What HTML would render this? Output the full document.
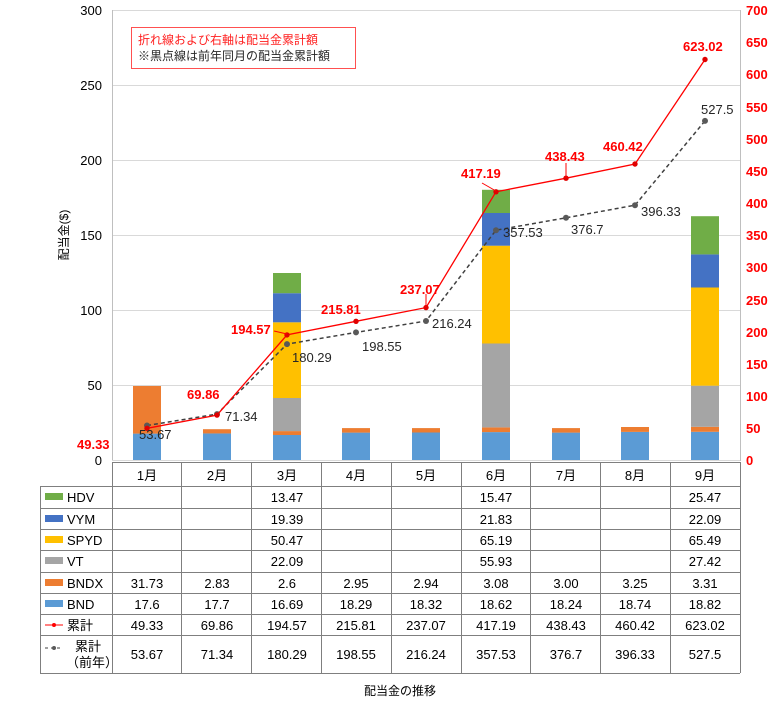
<!DOCTYPE html>
<html><head><meta charset="utf-8"><style>
body{margin:0;background:#fff}
text{font-family:"Liberation Sans","Noto Sans CJK JP",sans-serif}
</style></head><body>
<svg width="780" height="705" xmlns="http://www.w3.org/2000/svg">
<rect width="780" height="705" fill="#fff"/>
<g stroke="#d9d9d9" stroke-width="1">
<line x1="112" y1="10.5" x2="740" y2="10.5"/><line x1="112" y1="85.5" x2="740" y2="85.5"/>
<line x1="112" y1="160.5" x2="740" y2="160.5"/><line x1="112" y1="235.5" x2="740" y2="235.5"/>
<line x1="112" y1="310.5" x2="740" y2="310.5"/><line x1="112" y1="385.5" x2="740" y2="385.5"/>
</g>
<line x1="112.5" y1="10" x2="112.5" y2="461" stroke="#bfbfbf"/>
<line x1="740.5" y1="10" x2="740.5" y2="461" stroke="#bfbfbf"/>
<line x1="112" y1="460.5" x2="740" y2="460.5" stroke="#d9d9d9"/>
<g font-size="13" fill="#000" text-anchor="end">
<text x="102" y="15">300</text><text x="102" y="90">250</text><text x="102" y="165">200</text>
<text x="102" y="240">150</text><text x="102" y="315">100</text><text x="102" y="390">50</text><text x="102" y="465">0</text>
</g>
<g font-size="13" fill="#ff0000" font-weight="bold">
<text x="746" y="15">700</text><text x="746" y="47">650</text><text x="746" y="79">600</text><text x="746" y="112">550</text>
<text x="746" y="144">500</text><text x="746" y="176">450</text><text x="746" y="208">400</text><text x="746" y="240">350</text>
<text x="746" y="272">300</text><text x="746" y="305">250</text><text x="746" y="337">200</text><text x="746" y="369">150</text>
<text x="746" y="401">100</text><text x="746" y="433">50</text><text x="746" y="465">0</text>
</g>
<text transform="translate(68,235) rotate(-90)" font-size="12" text-anchor="middle">配当金($)</text>
<!-- bars: x center = 147+69.8*i, width 28 -->
<g>
<!-- Jan -->
<rect x="133" y="433.6" width="28" height="26.4" fill="#5b9bd5"/><rect x="133" y="386" width="28" height="47.6" fill="#ed7d31"/>
<!-- Feb -->
<rect x="203" y="433.45" width="28" height="26.55" fill="#5b9bd5"/><rect x="203" y="429.2" width="28" height="4.25" fill="#ed7d31"/>
<!-- Mar -->
<rect x="273" y="435" width="28" height="25" fill="#5b9bd5"/><rect x="273" y="431.1" width="28" height="3.9" fill="#ed7d31"/>
<rect x="273" y="398" width="28" height="33.1" fill="#a5a5a5"/><rect x="273" y="322.3" width="28" height="75.7" fill="#ffc000"/>
<rect x="273" y="293.2" width="28" height="29.1" fill="#4472c4"/><rect x="273" y="273" width="28" height="20.2" fill="#70ad47"/>
<!-- Apr -->
<rect x="342" y="432.6" width="28" height="27.4" fill="#5b9bd5"/><rect x="342" y="428.1" width="28" height="4.5" fill="#ed7d31"/>
<!-- May -->
<rect x="412" y="432.5" width="28" height="27.5" fill="#5b9bd5"/><rect x="412" y="428.1" width="28" height="4.4" fill="#ed7d31"/>
<!-- Jun -->
<rect x="482" y="432.1" width="28" height="27.9" fill="#5b9bd5"/><rect x="482" y="427.4" width="28" height="4.7" fill="#ed7d31"/>
<rect x="482" y="343.5" width="28" height="83.9" fill="#a5a5a5"/><rect x="482" y="245.7" width="28" height="97.8" fill="#ffc000"/>
<rect x="482" y="213" width="28" height="32.7" fill="#4472c4"/><rect x="482" y="189.8" width="28" height="23.2" fill="#70ad47"/>
<!-- Jul -->
<rect x="552" y="432.6" width="28" height="27.4" fill="#5b9bd5"/><rect x="552" y="428.1" width="28" height="4.5" fill="#ed7d31"/>
<!-- Aug -->
<rect x="621" y="431.9" width="28" height="28.1" fill="#5b9bd5"/><rect x="621" y="427" width="28" height="4.9" fill="#ed7d31"/>
<!-- Sep -->
<rect x="691" y="431.8" width="28" height="28.2" fill="#5b9bd5"/><rect x="691" y="426.8" width="28" height="5" fill="#ed7d31"/>
<rect x="691" y="385.7" width="28" height="41.1" fill="#a5a5a5"/><rect x="691" y="287.5" width="28" height="98.2" fill="#ffc000"/>
<rect x="691" y="254.4" width="28" height="33.1" fill="#4472c4"/><rect x="691" y="216.2" width="28" height="38.2" fill="#70ad47"/>
</g>
<!-- lines -->
<polyline points="147,425.5 217,414.1 287,344.1 356,332.4 426,321 496,230.2 566,217.8 635,205.2 705,120.9" fill="none" stroke="#404040" stroke-width="1.5" stroke-dasharray="4,3"/>
<g fill="#595959"><circle cx="147" cy="425.5" r="3"/><circle cx="217" cy="414.1" r="3"/><circle cx="287" cy="344.1" r="3"/><circle cx="356" cy="332.4" r="3"/><circle cx="426" cy="321" r="3"/><circle cx="496" cy="230.2" r="3"/><circle cx="566" cy="217.8" r="3"/><circle cx="635" cy="205.2" r="3"/><circle cx="705" cy="120.9" r="3"/></g>
<polyline points="147,428.3 217,415.1 287,334.9 356,321.3 426,307.6 496,191.8 566,178.2 635,164 705,59.5" fill="none" stroke="#ff0000" stroke-width="1.3"/>
<g fill="#e00000"><circle cx="147" cy="428.3" r="2.7"/><circle cx="217" cy="415.1" r="2.7"/><circle cx="287" cy="334.9" r="2.7"/><circle cx="356" cy="321.3" r="2.7"/><circle cx="426" cy="307.6" r="2.7"/><circle cx="496" cy="191.8" r="2.7"/><circle cx="566" cy="178.2" r="2.7"/><circle cx="635" cy="164" r="2.7"/><circle cx="705" cy="59.5" r="2.7"/></g>
<g stroke="#ff0000" stroke-width="1">
<line x1="482" y1="183" x2="496" y2="191"/><line x1="566" y1="163" x2="566" y2="178"/><line x1="426" y1="294" x2="426" y2="307"/><line x1="287" y1="334" x2="274" y2="331"/>
</g>
<g font-size="13" font-weight="bold" fill="#ff0000">
<text x="77" y="449">49.33</text><text x="187" y="399">69.86</text><text x="231" y="334">194.57</text>
<text x="321" y="314">215.81</text><text x="400" y="294">237.07</text><text x="461" y="178">417.19</text>
<text x="545" y="161">438.43</text><text x="603" y="151">460.42</text><text x="683" y="51">623.02</text>
</g>
<g font-size="13" fill="#262626">
<text x="139" y="439">53.67</text><text x="225" y="421">71.34</text><text x="292" y="362">180.29</text>
<text x="362" y="351">198.55</text><text x="432" y="328">216.24</text><text x="503" y="237">357.53</text>
<text x="571" y="234">376.7</text><text x="641" y="216">396.33</text><text x="701" y="114">527.5</text>
</g>
<!-- legend box -->
<rect x="131.5" y="27.5" width="224" height="41" fill="#fff" stroke="#ff5050"/>
<text x="138" y="44" font-size="12" fill="#ff2020">折れ線および右軸は配当金累計額</text>
<text x="138" y="60" font-size="12" fill="#262626">※黒点線は前年同月の配当金累計額</text>
<!-- table -->
<g stroke="#7f7f7f" stroke-width="1" fill="none">
<line x1="112.5" y1="462" x2="112.5" y2="673"/>
<line x1="740.5" y1="462" x2="740.5" y2="673"/>
<line x1="112" y1="462.5" x2="740" y2="462.5"/>
<line x1="40.5" y1="486" x2="40.5" y2="673"/>
<line x1="40" y1="486.5" x2="740" y2="486.5"/><line x1="40" y1="508.5" x2="740" y2="508.5"/>
<line x1="40" y1="529.5" x2="740" y2="529.5"/><line x1="40" y1="550.5" x2="740" y2="550.5"/>
<line x1="40" y1="572.5" x2="740" y2="572.5"/><line x1="40" y1="593.5" x2="740" y2="593.5"/>
<line x1="40" y1="614.5" x2="740" y2="614.5"/><line x1="40" y1="635.5" x2="740" y2="635.5"/>
<line x1="40" y1="673.5" x2="740" y2="673.5"/>
<line x1="181.5" y1="462" x2="181.5" y2="673"/><line x1="251.5" y1="462" x2="251.5" y2="673"/>
<line x1="321.5" y1="462" x2="321.5" y2="673"/><line x1="391.5" y1="462" x2="391.5" y2="673"/>
<line x1="461.5" y1="462" x2="461.5" y2="673"/><line x1="530.5" y1="462" x2="530.5" y2="673"/>
<line x1="600.5" y1="462" x2="600.5" y2="673"/><line x1="670.5" y1="462" x2="670.5" y2="673"/>
</g>
<g font-size="13" fill="#000">
<rect x="45" y="493" width="18" height="7" fill="#70ad47"/><text x="67" y="502">HDV</text>
<rect x="45" y="515" width="18" height="7" fill="#4472c4"/><text x="67" y="524">VYM</text>
<rect x="45" y="536" width="18" height="7" fill="#ffc000"/><text x="67" y="545">SPYD</text>
<rect x="45" y="557" width="18" height="7" fill="#a5a5a5"/><text x="67" y="566">VT</text>
<rect x="45" y="579" width="18" height="7" fill="#ed7d31"/><text x="67" y="588">BNDX</text>
<rect x="45" y="600" width="18" height="7" fill="#5b9bd5"/><text x="67" y="609">BND</text>
<line x1="45" y1="625" x2="63" y2="625" stroke="#ff0000"/><circle cx="54" cy="625" r="2" fill="#ff0000"/><text x="67" y="630">累計</text>
<line x1="45" y1="648" x2="63" y2="648" stroke="#404040" stroke-dasharray="3,3"/><circle cx="54" cy="648" r="2" fill="#595959"/>
<text x="75" y="651">累計</text><text x="66" y="667">（前年）</text>
</g>
<g font-size="13" fill="#000" text-anchor="middle">
<text x="147" y="480">1月</text><text x="217" y="480">2月</text><text x="287" y="480">3月</text><text x="356" y="480">4月</text><text x="426" y="480">5月</text><text x="496" y="480">6月</text><text x="566" y="480">7月</text><text x="635" y="480">8月</text><text x="705" y="480">9月</text>
<text x="287" y="502">13.47</text><text x="496" y="502">15.47</text><text x="705" y="502">25.47</text>
<text x="287" y="524">19.39</text><text x="496" y="524">21.83</text><text x="705" y="524">22.09</text>
<text x="287" y="545">50.47</text><text x="496" y="545">65.19</text><text x="705" y="545">65.49</text>
<text x="287" y="566">22.09</text><text x="496" y="566">55.93</text><text x="705" y="566">27.42</text>
<text x="147" y="588">31.73</text><text x="217" y="588">2.83</text><text x="287" y="588">2.6</text><text x="356" y="588">2.95</text><text x="426" y="588">2.94</text><text x="496" y="588">3.08</text><text x="566" y="588">3.00</text><text x="635" y="588">3.25</text><text x="705" y="588">3.31</text>
<text x="147" y="609">17.6</text><text x="217" y="609">17.7</text><text x="287" y="609">16.69</text><text x="356" y="609">18.29</text><text x="426" y="609">18.32</text><text x="496" y="609">18.62</text><text x="566" y="609">18.24</text><text x="635" y="609">18.74</text><text x="705" y="609">18.82</text>
<text x="147" y="630">49.33</text><text x="217" y="630">69.86</text><text x="287" y="630">194.57</text><text x="356" y="630">215.81</text><text x="426" y="630">237.07</text><text x="496" y="630">417.19</text><text x="566" y="630">438.43</text><text x="635" y="630">460.42</text><text x="705" y="630">623.02</text>
<text x="147" y="659">53.67</text><text x="217" y="659">71.34</text><text x="287" y="659">180.29</text><text x="356" y="659">198.55</text><text x="426" y="659">216.24</text><text x="496" y="659">357.53</text><text x="566" y="659">376.7</text><text x="635" y="659">396.33</text><text x="705" y="659">527.5</text>
</g>
<text x="400" y="695" font-size="12" text-anchor="middle">配当金の推移</text>
</svg>
</body></html>
